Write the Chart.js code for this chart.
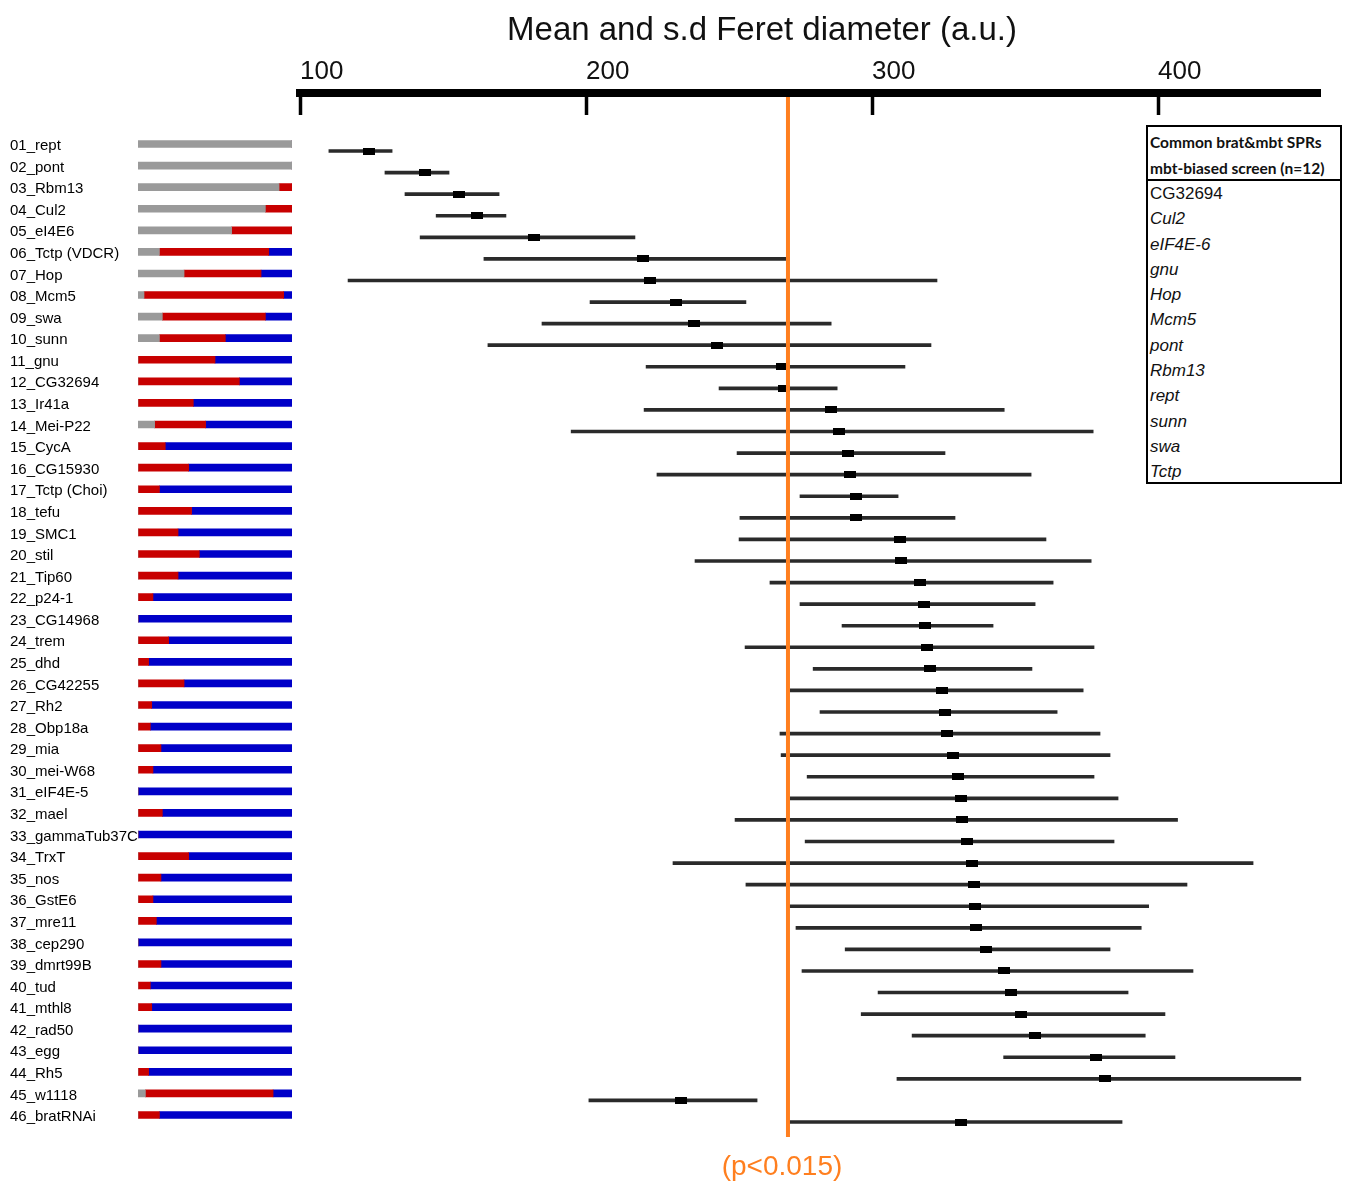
<!DOCTYPE html>
<html>
<head>
<meta charset="utf-8">
<script src="https://cdn.jsdelivr.net/npm/chart.js@4.4.1/dist/chart.umd.min.js"></script>
<style>
  html, body { margin: 0; padding: 0; background: #fff; }
  #wrap { position: relative; width: 1346px; height: 1185px; }
  .layer { position: absolute; left: 0; top: 0; height: 1185px; }
  #compBox { width: 300px; }
  #feretBox { width: 1346px; }
  #sprBox {
    position: absolute; left: 1146px; top: 125px; width: 192px; height: 355px;
    border: 2px solid #000; background: #fff;
    font-family: "Liberation Sans", Arial, sans-serif; color: #111;
  }
  #sprBox .head {
    font-family: Lato, "Open Sans", sans-serif; font-weight: bold; font-size: 15.5px;
    line-height: 26px; padding: 2px 0 0 2px; border-bottom: 2px solid #000; height: 50px;
  }
  #sprBox ul { list-style: none; margin: 0; padding: 0 0 0 2px; }
  #sprBox li { font-size: 17px; line-height: 25.3px; font-style: italic; }
  #sprBox li.plain { font-style: normal; }
</style>
</head>
<body>
<div id="wrap">
  <div class="layer" id="compBox"><canvas id="compChart"></canvas></div>
  <div class="layer" id="feretBox"><canvas id="feretChart"></canvas></div>
  <div id="sprBox">
    <div class="head">Common brat&amp;mbt SPRs<br>mbt-biased screen (n=12)</div>
    <ul id="sprList"></ul>
  </div>
</div>
<script>
// RNAi lines, top to bottom
const genes = [
  '01_rept', '02_pont', '03_Rbm13', '04_Cul2', '05_eI4E6', '06_Tctp (VDCR)', '07_Hop', '08_Mcm5',
  '09_swa', '10_sunn', '11_gnu', '12_CG32694', '13_Ir41a', '14_Mei-P22', '15_CycA', '16_CG15930',
  '17_Tctp (Choi)', '18_tefu', '19_SMC1', '20_stil', '21_Tip60', '22_p24-1', '23_CG14968', '24_trem',
  '25_dhd', '26_CG42255', '27_Rh2', '28_Obp18a', '29_mia', '30_mei-W68', '31_eIF4E-5', '32_mael',
  '33_gammaTub37C', '34_TrxT', '35_nos', '36_GstE6', '37_mre11', '38_cep290', '39_dmrt99B', '40_tud',
  '41_mthl8', '42_rad50', '43_egg', '44_Rh5', '45_w1118', '46_bratRNAi'
];

// composition of each line (% grey / red / blue)
const grayPct = [
  100, 100, 91.6, 82.7, 60.8, 13.9, 29.9, 3.9, 15.8, 13.9, 0, 0, 0, 10.8, 0, 0,
  0, 0, 0, 0, 0, 0, 0, 0, 0, 0, 0, 0, 0, 0, 0, 0,
  0, 0, 0, 0, 0, 0, 0, 0, 0, 0, 0, 0, 4.8, 0
];
const redPct = [
  0, 0, 8.4, 17.3, 39.2, 71.0, 50.0, 90.7, 66.9, 42.8, 50.0, 65.8, 35.9, 33.1, 17.7, 32.9,
  13.9, 34.8, 26.0, 39.8, 26.0, 9.7, 0, 19.9, 6.9, 29.9, 8.9, 8.0, 14.9, 9.7, 0, 15.8,
  0, 32.9, 14.9, 9.7, 11.9, 0, 14.9, 8.0, 8.9, 0, 0, 6.9, 82.9, 13.9
];
const bluePct = [
  0, 0, 0, 0, 0, 15.1, 20.1, 5.4, 17.3, 43.3, 50.0, 34.2, 64.1, 56.1, 82.3, 67.1,
  86.1, 65.2, 74.0, 60.2, 74.0, 90.3, 100, 80.1, 93.1, 70.1, 91.1, 92.0, 85.1, 90.3, 100, 84.2,
  100, 67.1, 85.1, 90.3, 88.1, 100, 85.1, 92.0, 91.1, 100, 100, 93.1, 12.3, 86.1
];

// Feret diameter (a.u.): whisker start, mean, whisker end
const feretLow = [
  110.1, 129.7, 136.7, 147.6, 142.0, 164.3, 116.8, 201.4, 184.6, 165.7, 221.0, 246.5, 220.3, 194.8, 252.8, 224.8,
  274.8, 253.8, 253.5, 238.1, 264.3, 274.8, 289.5, 255.6, 279.4, 271.3, 281.8, 267.8, 268.2, 277.3, 271.3, 252.1,
  276.6, 230.4, 255.9, 271.0, 273.4, 290.6, 275.5, 302.1, 296.2, 314.0, 346.0, 308.7, 201.0, 271.0
];
const feretMean = [
  124.1, 143.7, 155.6, 161.9, 181.8, 219.9, 222.4, 231.5, 237.8, 245.8, 268.5, 269.2, 285.7, 288.5, 291.6, 292.3,
  294.4, 294.4, 309.8, 310.1, 316.8, 318.2, 318.5, 319.2, 320.3, 324.5, 325.5, 326.2, 328.3, 330.1, 331.1, 331.6,
  333.2, 335.0, 335.5, 336.0, 336.4, 339.9, 346.2, 348.4, 352.1, 357.0, 378.2, 381.5, 233.1, 331.1
];
const feretHigh = [
  132.2, 152.1, 169.6, 172.0, 217.1, 271.0, 322.7, 255.9, 285.7, 320.6, 311.5, 287.8, 346.2, 377.3, 325.5, 355.6,
  309.1, 329.0, 360.8, 376.6, 363.3, 357.0, 342.3, 377.6, 355.9, 373.8, 364.7, 379.7, 383.2, 377.6, 386.0, 406.8,
  384.6, 433.2, 410.1, 396.7, 394.1, 383.2, 412.2, 389.5, 402.4, 395.5, 405.9, 449.9, 259.8, 387.4
];

const axisTicks = [100, 200, 300, 400];
const threshold = 270.6;
const thresholdLabel = '(p<0.015)';

const sprGenes = ['CG32694', 'Cul2', 'eIF4E-6', 'gnu', 'Hop', 'Mcm5', 'pont', 'Rbm13', 'rept', 'sunn', 'swa', 'Tctp'];

const ORANGE = '#ff7f1f';
const sans = '"Liberation Sans", Arial, sans-serif';

// row positions on the right panel (index units above first / below last row)
const rowMin = -2.688;
const rowMax = 45.695;

// legend box with the gene list
const ul = document.getElementById('sprList');
sprGenes.forEach((g, i) => {
  const li = document.createElement('li');
  li.textContent = g;
  if (i === 0) li.className = 'plain';
  ul.appendChild(li);
});

// left: stacked composition bars
new Chart(document.getElementById('compChart'), {
  type: 'bar',
  data: {
    labels: genes,
    datasets: [
      { data: grayPct, backgroundColor: '#9a9a9a' },
      { data: redPct, backgroundColor: '#c80000' },
      { data: bluePct, backgroundColor: '#0000c8' }
    ]
  },
  options: {
    indexAxis: 'y',
    responsive: true,
    maintainAspectRatio: false,
    animation: false,
    barThickness: 7,
    borderWidth: 0,
    layout: { padding: { top: 133.21, bottom: 59.21, left: 10, right: 8 } },
    plugins: { legend: { display: false }, tooltip: { enabled: false } },
    scales: {
      x: { display: false, stacked: true, min: 0, max: 100 },
      y: {
        stacked: true,
        grid: { display: false },
        border: { display: false },
        ticks: {
          autoSkip: false,
          crossAlign: 'far',
          labelOffset: 2,
          color: '#000',
          font: { family: sans, size: 15 }
        },
        afterFit: (s) => { s.width = 128; }
      }
    }
  }
});

// mean marker: small filled rectangle
const meanMark = document.createElement('canvas');
meanMark.width = 12;
meanMark.height = 7;
const mctx = meanMark.getContext('2d');
mctx.fillStyle = '#000';
mctx.fillRect(0, 0, 12, 7);

const thresholdPlugin = {
  id: 'thresholdLine',
  afterDatasetsDraw(chart) {
    const { ctx, chartArea, scales } = chart;
    const px = scales.x.getPixelForValue(threshold);
    ctx.save();
    ctx.strokeStyle = ORANGE;
    ctx.lineWidth = 4;
    ctx.beginPath();
    ctx.moveTo(px, chartArea.top + 4);
    ctx.lineTo(px, chartArea.bottom);
    ctx.stroke();
    ctx.fillStyle = ORANGE;
    ctx.font = '28px ' + sans;
    ctx.textAlign = 'center';
    ctx.textBaseline = 'middle';
    ctx.fillText(thresholdLabel, px - 6, chartArea.bottom + 30);
    ctx.restore();
  }
};

// right: mean and s.d. per line
new Chart(document.getElementById('feretChart'), {
  type: 'scatter',
  data: {
    datasets: [
      {
        type: 'bar',
        indexAxis: 'y',
        data: genes.map((g, i) => ({ x: [feretLow[i], feretHigh[i]], y: i })),
        backgroundColor: '#2a2a2a',
        barThickness: 3,
        borderWidth: 0,
        order: 2
      },
      {
        type: 'scatter',
        data: genes.map((g, i) => ({ x: feretMean[i], y: i })),
        pointStyle: meanMark,
        showLine: false,
        order: 1
      }
    ]
  },
  options: {
    responsive: true,
    maintainAspectRatio: false,
    animation: false,
    layout: { padding: { top: 0, left: 204, right: 26, bottom: 48 } },
    plugins: {
      legend: { display: false },
      tooltip: { enabled: false },
      title: {
        display: true,
        text: 'Mean and s.d Feret diameter (a.u.)',
        color: '#111',
        font: { family: sans, size: 33, weight: 'normal' },
        padding: { top: 11.6, bottom: 0 }
      }
    },
    scales: {
      x: {
        type: 'linear',
        position: 'top',
        min: 100,
        max: 456.6,
        afterBuildTicks: (s) => { s.ticks = axisTicks.map((v) => ({ value: v })); },
        afterFit: (s) => { s.height = 41.8; },
        border: { display: true, width: 8, color: '#000' },
        grid: { drawOnChartArea: false, tickLength: -22, tickWidth: 3.5, tickColor: '#000' },
        ticks: {
          align: 'start',
          padding: 28,
          color: '#111',
          font: { family: sans, size: 26 }
        }
      },
      y: {
        type: 'linear',
        reverse: true,
        offset: false,
        bounds: 'data',
        min: rowMin,
        max: rowMax,
        afterBuildTicks: (s) => { s.min = rowMin; s.max = rowMax; },
        grid: { display: false, offset: false },
        border: { display: false },
        ticks: { display: false },
        afterFit: (s) => { s.width = 96; }
      }
    }
  },
  plugins: [thresholdPlugin]
});
</script>
</body>
</html>
